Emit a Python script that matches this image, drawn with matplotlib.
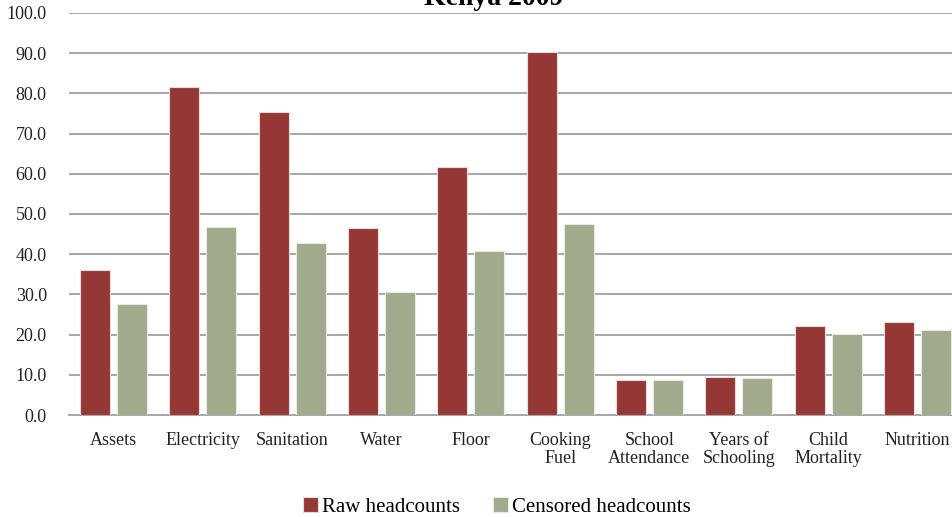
import matplotlib.pyplot as plt
import numpy as np

# donnees
categories = ["Assets", "Electricity", "Sanitation", "Water", "Floor",
              "Cooking\nFuel", "School\nAttendance", "Years of\nSchooling",
              "Child\nMortality", "Nutrition"]
raw = [36.1, 81.7, 75.4, 46.6, 61.8, 90.2, 8.6, 9.5, 22.2, 23.1]
censored = [27.6, 46.7, 42.8, 30.6, 40.9, 47.6, 8.6, 9.2, 20.1, 21.2]

plt.rcParams['font.family'] = ['Liberation Serif', 'DejaVu Serif']

fig = plt.figure(figsize=(9.53, 5.17), dpi=100)
ax = fig.add_axes([69/953, 1 - 415/517, 893/953, 402/517])

x = np.arange(len(categories))
w = 0.336
ax.bar(x - 0.207, raw, w, color="#953735", edgecolor="#e6dcdc", linewidth=0.8,
       label="Raw headcounts", zorder=3)
ax.bar(x + 0.207, censored, w, color="#a0aa8c", edgecolor="#e8ebe2", linewidth=0.8,
       label="Censored headcounts", zorder=3)

ax.set_xlim(-0.5, len(categories) - 0.5)
ax.set_ylim(0, 100)
ax.set_yticks(np.arange(0, 101, 10))
ax.set_yticklabels(["%.1f" % v for v in np.arange(0, 101, 10)])
ax.set_xticks(x)
ax.set_xticklabels(categories, linespacing=1.1)
ax.tick_params(axis='both', length=0, labelsize=13, colors="#222222")
ax.tick_params(axis='y', pad=16)
ax.tick_params(axis='x', pad=12)
ax.yaxis.grid(True, color="#a6a6a6", linewidth=1.4)
for s in ["left", "right", "top"]:
    ax.spines[s].set_visible(False)
ax.spines["bottom"].set_color("#a6a6a6")
ax.spines["bottom"].set_linewidth(1.4)

fig.text(494/953, 1 - 5/517, "Kenya 2009", ha="center", va="baseline",
         fontsize=20, fontweight="bold")

fig.legend(loc="center", bbox_to_anchor=(497/953, 1 - 507/517), ncol=2,
           frameon=False, fontsize=15, handlelength=0.7, handleheight=0.7,
           handletextpad=0.2, columnspacing=1.6)

fig.savefig("out.png", dpi=100)
